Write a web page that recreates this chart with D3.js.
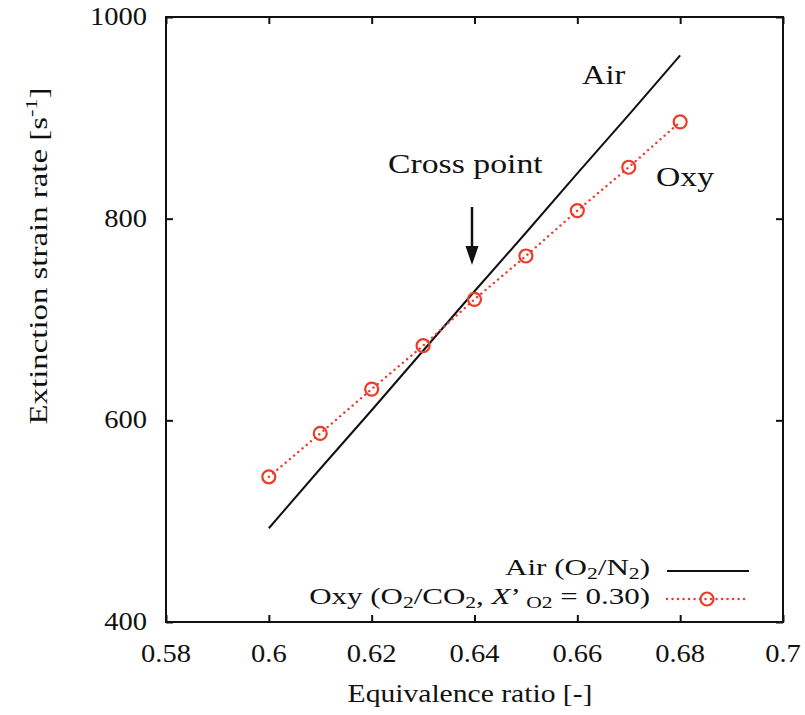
<!DOCTYPE html>
<html><head><meta charset="utf-8">
<script src="https://cdn.jsdelivr.net/npm/d3@7"></script>
<style>body{margin:0;background:#fff;} text{font-family:"Liberation Serif","Times New Roman",serif;fill:#111;}</style>
</head><body>
<svg id="c" width="805" height="715"></svg>
<script>
const phi = [0.60, 0.61, 0.62, 0.63, 0.64, 0.65, 0.66, 0.67, 0.68];
const airValues = [493, 552, 610, 669, 728, 786, 845, 903, 962];
const oxyValues = [544, 587, 631, 674, 720, 763, 808, 851, 896];
const xTicks = [0.58, 0.6, 0.62, 0.64, 0.66, 0.68, 0.7];
const xTickLabels = ["0.58", "0.6", "0.62", "0.64", "0.66", "0.68", "0.7"];
const yTicks = [400, 600, 800, 1000];
const yTickLabels = ["400", "600", "800", "1000"];

const svg = d3.select("#c");
const L = 166, R = 783, T = 17, B = 622;
const x = d3.scaleLinear().domain([0.58, 0.7]).range([L, R]);
const y = d3.scaleLinear().domain([400, 1000]).range([B, T]);
const red = "#ee3a26";
const ink = "#111";

// frame
svg.append("rect").attr("x",L).attr("y",T).attr("width",R-L).attr("height",B-T)
  .attr("fill","none").attr("stroke",ink).attr("stroke-width",2);

// inward ticks on all four sides
const axB = d3.axisBottom(x).tickValues(xTicks).tickSize(-7).tickFormat("");
const axL = d3.axisLeft(y).tickValues(yTicks).tickSize(-7).tickFormat("");
const axT = d3.axisTop(x).tickValues(xTicks).tickSize(-7).tickFormat("");
const axR = d3.axisRight(y).tickValues(yTicks).tickSize(-7).tickFormat("");
function style(g){
  g.select(".domain").remove();
  g.selectAll(".tick line").attr("stroke",ink).attr("stroke-width",2);
}
svg.append("g").attr("transform",`translate(0,${B})`).call(axB).call(style);
svg.append("g").attr("transform",`translate(${L},0)`).call(axL).call(style);
svg.append("g").attr("transform",`translate(0,${T})`).call(axT).call(style);
svg.append("g").attr("transform",`translate(${R},0)`).call(axR).call(style);

// helper: text placed at anchor, stretched along its reading direction
function label(px, py, anchor, size, rot, sx){
  const g = svg.append("g").attr("transform",`translate(${px},${py}) rotate(${rot}) scale(${sx},1)`);
  return g.append("text").attr("x",0).attr("y",0).attr("text-anchor",anchor).attr("font-size",size);
}
function fit(t, target){
  const w = t.node().getBBox().width;
  const g = d3.select(t.node().parentNode);
  const tr = g.attr("transform").replace(/scale\([^)]*\)/, `scale(${target/w},1)`);
  g.attr("transform", tr);
}

// tick labels (through the scales)
const tickStretch = 1.14;
xTicks.forEach((v,i)=>{
  label(x(v), 662, "middle", 25, 0, tickStretch).text(xTickLabels[i]);
});
yTicks.forEach((v,i)=>{
  label(147, y(v)+8, "end", 25, 0, tickStretch).text(yTickLabels[i]);
});

// axis titles
const xl = label(470, 702, "middle", 25, 0, 1).text("Equivalence ratio [-]");
fit(xl, 245);
const yl = label(47, 256, "middle", 25, -90, 1);
yl.append("tspan").text("Extinction strain rate [s");
yl.append("tspan").attr("dy",-10).attr("font-size",17).text("-1");
yl.append("tspan").attr("dy",10).text("]");
fit(yl, 337);

// Air line
const line = d3.line().x((d,i)=>x(phi[i])).y(d=>y(d));
svg.append("path").datum(airValues).attr("d",line).attr("fill","none").attr("stroke",ink).attr("stroke-width",2);

// Oxy dotted line + circles
svg.append("path").datum(oxyValues).attr("d",line).attr("fill","none").attr("stroke",red)
  .attr("stroke-width",2.4).attr("stroke-dasharray","0.1,5.4").attr("stroke-linecap","round");
svg.selectAll("circle.oxy").data(oxyValues).enter().append("circle").attr("class","oxy")
  .attr("cx",(d,i)=>x(phi[i])).attr("cy",d=>y(d)).attr("r",6.5)
  .attr("fill","none").attr("stroke",red).attr("stroke-width",2.2);

// annotations
fit(label(388, 173, "start", 28, 0, 1).text("Cross point"), 155);
fit(label(582, 84, "start", 28, 0, 1).text("Air"), 44);
fit(label(656, 186, "start", 28, 0, 1).text("Oxy"), 58);
svg.append("line").attr("x1",472).attr("x2",472).attr("y1",207).attr("y2",250).attr("stroke",ink).attr("stroke-width",2.5);
svg.append("path").attr("d","M465.5,246 L478.5,246 L472,265 Z").attr("fill",ink);

// legend
const lf = 23, sf = 16;
const t1 = label(650, 575, "end", lf, 0, 1);
t1.append("tspan").text("Air (O");
t1.append("tspan").attr("dy",4).attr("font-size",sf).text("2");
t1.append("tspan").attr("dy",-4).text("/N");
t1.append("tspan").attr("dy",4).attr("font-size",sf).text("2");
t1.append("tspan").attr("dy",-4).text(")");
fit(t1, 145);
svg.append("line").attr("x1",667).attr("x2",749).attr("y1",571).attr("y2",571).attr("stroke",ink).attr("stroke-width",2);

const t2 = label(650, 604, "end", lf, 0, 1);
t2.append("tspan").text("Oxy (O");
t2.append("tspan").attr("dy",4).attr("font-size",sf).text("2");
t2.append("tspan").attr("dy",-4).text("/CO");
t2.append("tspan").attr("dy",4).attr("font-size",sf).text("2");
t2.append("tspan").attr("dy",-4).text(", ");
t2.append("tspan").attr("font-style","italic").text("X");
t2.append("tspan").text("’ ");
t2.append("tspan").attr("dy",4).attr("font-size",sf).text("O2");
t2.append("tspan").attr("dy",-4).text(" = 0.30)");
fit(t2, 341);
svg.append("line").attr("x1",667).attr("x2",749).attr("y1",599).attr("y2",599).attr("stroke",red)
  .attr("stroke-width",2.4).attr("stroke-dasharray","0.1,5.4").attr("stroke-linecap","round");
svg.append("circle").attr("cx",707).attr("cy",599).attr("r",6.5).attr("fill","none").attr("stroke",red).attr("stroke-width",2.2);
</script>
</body></html>
